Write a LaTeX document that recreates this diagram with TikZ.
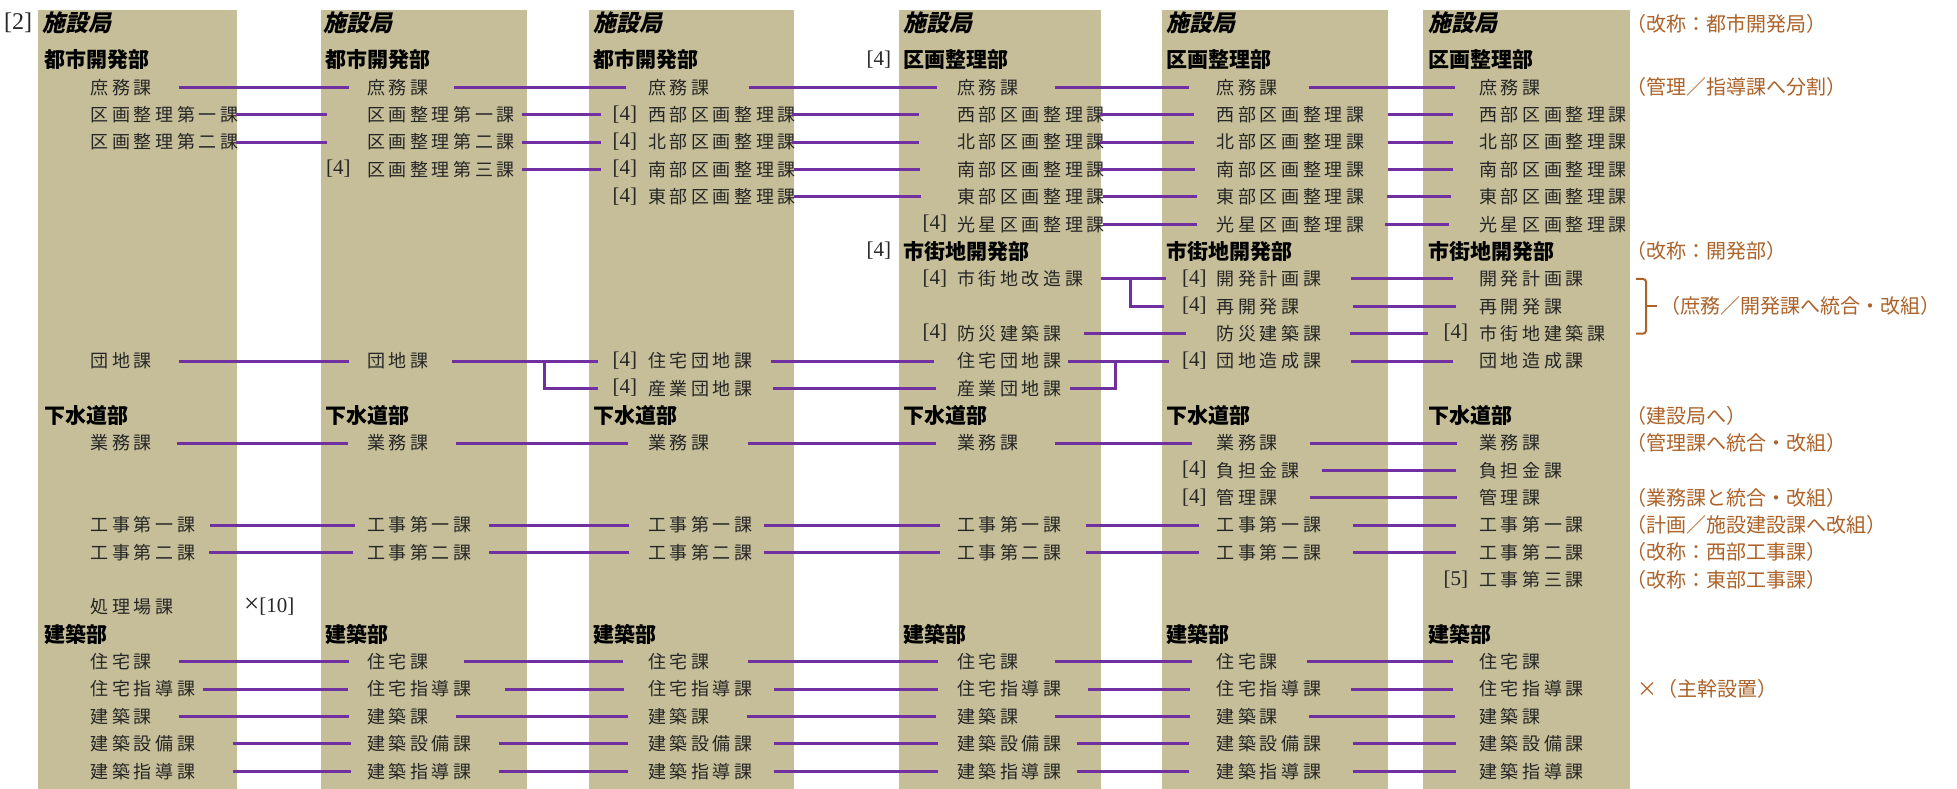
\documentclass[tikz,border=0pt]{standalone}
\usepackage{fontspec}
\setmainfont{Liberation Serif}
\newfontfamily\jp{Noto Sans CJK JP}
\newfontfamily\jpls[LetterSpace=20]{Noto Sans CJK JP}
\newfontfamily\jpsl[FakeSlant=0.22]{Noto Sans CJK JP}
\definecolor{colbg}{RGB}{197,190,152}
\definecolor{lnk}{RGB}{112,48,160}
\definecolor{notec}{RGB}{172,98,40}
\def\XA{90.5}\def\XB{367}\def\XC{648}\def\XD{957}\def\XE{1216.5}\def\XF{1479}
\def\HA{44}\def\HB{325}\def\HC{593}\def\HD{903}\def\HE{1166}\def\HF{1428}
\newcommand\secnode[4]{\node[sec] (#1) at (#2,{ry(#3)}) {#4};}
\newcommand\hdnode[4]{\node[hd] (#1) at (#2,{ry(#3)}) {#4};}
\newcommand\refnode[4]{\node[refn] (#1) at (#2,{ry(#3)}) {#4};}
\newcommand\notenode[4]{\node[note] (#1) at (#2,{ry(#3)}) {#4};}
\newcommand\lnk[4]{\draw[conn] ([xshift=#3pt]#1.east) -- ([xshift=#4pt]#2.west);}
\begin{document}
\begin{tikzpicture}[x=1pt,y=-1pt,
  declare function={ry(\r)=87.5+27.35*(\r-2);},
  ttl/.style={anchor=west,inner sep=0pt,font=\jpsl\bfseries\fontsize{23}{23}\selectfont,text height=19pt,text depth=3pt},
  hd/.style={anchor=west,inner sep=0pt,font=\jp\bfseries\fontsize{21}{21}\selectfont,text height=17.5pt,text depth=2.3pt},
  sec/.style={anchor=west,inner sep=0pt,font=\jpls\fontsize{18}{18}\selectfont,text=black!85,text height=15pt,text depth=1.5pt},
  refn/.style={anchor=west,inner sep=0pt,font=\fontsize{21}{21}\selectfont,text=black!85,text height=14.3pt,text depth=3.8pt},
  note/.style={anchor=west,inner sep=0pt,font=\jp\fontsize{20}{20}\selectfont,text=notec,text height=16.6pt,text depth=2pt},
  conn/.style={draw=lnk,line width=3pt},
  brace/.style={draw=notec,line width=2pt,rounded corners=3pt}]
\useasboundingbox (0,0) rectangle (1957,789);
\fill[white] (0,0) rectangle (1957,789);
% column backgrounds
\fill[colbg] (37.5,10.5) rectangle (237,789);
\fill[colbg] (321,10.5) rectangle (527,789);
\fill[colbg] (589,10.5) rectangle (794,789);
\fill[colbg] (899,10.5) rectangle (1101,789);
\fill[colbg] (1162,10.5) rectangle (1388,789);
\fill[colbg] (1423,10.5) rectangle (1630,789);
% titles
\node[refn,font=\fontsize{24}{24}\selectfont] (ref2) at (4,24) {[2]};
\node[ttl] (c1t) at (42,24) {施設局};
\node[ttl] (c2t) at (323,24) {施設局};
\node[ttl] (c3t) at (593,24) {施設局};
\node[ttl] (c4t) at (903,24) {施設局};
\node[ttl] (c5t) at (1166,24) {施設局};
\node[ttl] (c6t) at (1428,24) {施設局};
% ---------- column 1
\hdnode{c1h1}{\HA}{1}{都市開発部}
\secnode{c1r2}{\XA}{2}{庶務課}
\secnode{c1r3}{\XA}{3}{区画整理第一課}
\secnode{c1r4}{\XA}{4}{区画整理第二課}
\secnode{c1r12}{\XA}{12}{団地課}
\hdnode{c1h14}{\HA}{14}{下水道部}
\secnode{c1r15}{\XA}{15}{業務課}
\secnode{c1r18}{\XA}{18}{工事第一課}
\secnode{c1r19}{\XA}{19}{工事第二課}
\secnode{c1r21}{\XA}{21}{処理場課}
\refnode{x10}{244}{21}{{\fontsize{27}{27}\selectfont ×}[10]}
\hdnode{c1h22}{\HA}{22}{建築部}
\secnode{c1r23}{\XA}{23}{住宅課}
\secnode{c1r24}{\XA}{24}{住宅指導課}
\secnode{c1r25}{\XA}{25}{建築課}
\secnode{c1r26}{\XA}{26}{建築設備課}
\secnode{c1r27}{\XA}{27}{建築指導課}
% ---------- column 2
\hdnode{c2h1}{\HB}{1}{都市開発部}
\secnode{c2r2}{\XB}{2}{庶務課}
\secnode{c2r3}{\XB}{3}{区画整理第一課}
\secnode{c2r4}{\XB}{4}{区画整理第二課}
\refnode{p2r5}{326}{5}{[4]}
\secnode{c2r5}{\XB}{5}{区画整理第三課}
\secnode{c2r12}{\XB}{12}{団地課}
\hdnode{c2h14}{\HB}{14}{下水道部}
\secnode{c2r15}{\XB}{15}{業務課}
\secnode{c2r18}{\XB}{18}{工事第一課}
\secnode{c2r19}{\XB}{19}{工事第二課}
\hdnode{c2h22}{\HB}{22}{建築部}
\secnode{c2r23}{\XB}{23}{住宅課}
\secnode{c2r24}{\XB}{24}{住宅指導課}
\secnode{c2r25}{\XB}{25}{建築課}
\secnode{c2r26}{\XB}{26}{建築設備課}
\secnode{c2r27}{\XB}{27}{建築指導課}
% ---------- column 3
\hdnode{c3h1}{\HC}{1}{都市開発部}
\secnode{c3r2}{\XC}{2}{庶務課}
\refnode{p3r3}{612.5}{3}{[4]}
\secnode{c3r3}{\XC}{3}{西部区画整理課}
\refnode{p3r4}{612.5}{4}{[4]}
\secnode{c3r4}{\XC}{4}{北部区画整理課}
\refnode{p3r5}{612.5}{5}{[4]}
\secnode{c3r5}{\XC}{5}{南部区画整理課}
\refnode{p3r6}{612.5}{6}{[4]}
\secnode{c3r6}{\XC}{6}{東部区画整理課}
\refnode{p3r12}{612.5}{12}{[4]}
\secnode{c3r12}{\XC}{12}{住宅団地課}
\refnode{p3r13}{612.5}{13}{[4]}
\secnode{c3r13}{\XC}{13}{産業団地課}
\hdnode{c3h14}{\HC}{14}{下水道部}
\secnode{c3r15}{\XC}{15}{業務課}
\secnode{c3r18}{\XC}{18}{工事第一課}
\secnode{c3r19}{\XC}{19}{工事第二課}
\hdnode{c3h22}{\HC}{22}{建築部}
\secnode{c3r23}{\XC}{23}{住宅課}
\secnode{c3r24}{\XC}{24}{住宅指導課}
\secnode{c3r25}{\XC}{25}{建築課}
\secnode{c3r26}{\XC}{26}{建築設備課}
\secnode{c3r27}{\XC}{27}{建築指導課}
% ---------- column 4
\refnode{p4h1}{866.5}{1}{[4]}
\hdnode{c4h1}{\HD}{1}{区画整理部}
\secnode{c4r2}{\XD}{2}{庶務課}
\secnode{c4r3}{\XD}{3}{西部区画整理課}
\secnode{c4r4}{\XD}{4}{北部区画整理課}
\secnode{c4r5}{\XD}{5}{南部区画整理課}
\secnode{c4r6}{\XD}{6}{東部区画整理課}
\refnode{p4r7}{922.5}{7}{[4]}
\secnode{c4r7}{\XD}{7}{光星区画整理課}
\refnode{p4h8}{866.5}{8}{[4]}
\hdnode{c4h8}{\HD}{8}{市街地開発部}
\refnode{p4r9}{922.5}{9}{[4]}
\secnode{c4r9}{\XD}{9}{市街地改造課}
\refnode{p4r11}{922.5}{11}{[4]}
\secnode{c4r11}{\XD}{11}{防災建築課}
\secnode{c4r12}{\XD}{12}{住宅団地課}
\secnode{c4r13}{\XD}{13}{産業団地課}
\hdnode{c4h14}{\HD}{14}{下水道部}
\secnode{c4r15}{\XD}{15}{業務課}
\secnode{c4r18}{\XD}{18}{工事第一課}
\secnode{c4r19}{\XD}{19}{工事第二課}
\hdnode{c4h22}{\HD}{22}{建築部}
\secnode{c4r23}{\XD}{23}{住宅課}
\secnode{c4r24}{\XD}{24}{住宅指導課}
\secnode{c4r25}{\XD}{25}{建築課}
\secnode{c4r26}{\XD}{26}{建築設備課}
\secnode{c4r27}{\XD}{27}{建築指導課}
% ---------- column 5
\hdnode{c5h1}{\HE}{1}{区画整理部}
\secnode{c5r2}{\XE}{2}{庶務課}
\secnode{c5r3}{\XE}{3}{西部区画整理課}
\secnode{c5r4}{\XE}{4}{北部区画整理課}
\secnode{c5r5}{\XE}{5}{南部区画整理課}
\secnode{c5r6}{\XE}{6}{東部区画整理課}
\secnode{c5r7}{\XE}{7}{光星区画整理課}
\hdnode{c5h8}{\HE}{8}{市街地開発部}
\refnode{p5r9}{1182}{9}{[4]}
\secnode{c5r9}{\XE}{9}{開発計画課}
\refnode{p5r10}{1182}{10}{[4]}
\secnode{c5r10}{\XE}{10}{再開発課}
\secnode{c5r11}{\XE}{11}{防災建築課}
\refnode{p5r12}{1182}{12}{[4]}
\secnode{c5r12}{\XE}{12}{団地造成課}
\hdnode{c5h14}{\HE}{14}{下水道部}
\secnode{c5r15}{\XE}{15}{業務課}
\refnode{p5r16}{1182}{16}{[4]}
\secnode{c5r16}{\XE}{16}{負担金課}
\refnode{p5r17}{1182}{17}{[4]}
\secnode{c5r17}{\XE}{17}{管理課}
\secnode{c5r18}{\XE}{18}{工事第一課}
\secnode{c5r19}{\XE}{19}{工事第二課}
\hdnode{c5h22}{\HE}{22}{建築部}
\secnode{c5r23}{\XE}{23}{住宅課}
\secnode{c5r24}{\XE}{24}{住宅指導課}
\secnode{c5r25}{\XE}{25}{建築課}
\secnode{c5r26}{\XE}{26}{建築設備課}
\secnode{c5r27}{\XE}{27}{建築指導課}
% ---------- column 6
\hdnode{c6h1}{\HF}{1}{区画整理部}
\secnode{c6r2}{\XF}{2}{庶務課}
\secnode{c6r3}{\XF}{3}{西部区画整理課}
\secnode{c6r4}{\XF}{4}{北部区画整理課}
\secnode{c6r5}{\XF}{5}{南部区画整理課}
\secnode{c6r6}{\XF}{6}{東部区画整理課}
\secnode{c6r7}{\XF}{7}{光星区画整理課}
\hdnode{c6h8}{\HF}{8}{市街地開発部}
\secnode{c6r9}{\XF}{9}{開発計画課}
\secnode{c6r10}{\XF}{10}{再開発課}
\refnode{p6r11}{1443.5}{11}{[4]}
\secnode{c6r11}{\XF}{11}{市街地建築課}
\secnode{c6r12}{\XF}{12}{団地造成課}
\hdnode{c6h14}{\HF}{14}{下水道部}
\secnode{c6r15}{\XF}{15}{業務課}
\secnode{c6r16}{\XF}{16}{負担金課}
\secnode{c6r17}{\XF}{17}{管理課}
\secnode{c6r18}{\XF}{18}{工事第一課}
\secnode{c6r19}{\XF}{19}{工事第二課}
\refnode{p6r20}{1443.5}{20}{[5]}
\secnode{c6r20}{\XF}{20}{工事第三課}
\hdnode{c6h22}{\HF}{22}{建築部}
\secnode{c6r23}{\XF}{23}{住宅課}
\secnode{c6r24}{\XF}{24}{住宅指導課}
\secnode{c6r25}{\XF}{25}{建築課}
\secnode{c6r26}{\XF}{26}{建築設備課}
\secnode{c6r27}{\XF}{27}{建築指導課}
% ---------- notes
\node[note] (n0) at (1626.5,24) {（改称：都市開発局）};
\notenode{n2}{1626.5}{2}{（管理／指導課へ分割）}
\notenode{n8}{1626.5}{8}{（改称：開発部）}
\notenode{n10}{1660}{10}{（庶務／開発課へ統合・改組）}
\notenode{n14}{1626.5}{14}{（建設局へ）}
\notenode{n15}{1626.5}{15}{（管理課へ統合・改組）}
\notenode{n17}{1626.5}{17}{（業務課と統合・改組）}
\notenode{n18}{1626.5}{18}{（計画／施設建設課へ改組）}
\notenode{n19}{1626.5}{19}{（改称：西部工事課）}
\notenode{n20}{1626.5}{20}{（改称：東部工事課）}
\notenode{n24}{1637}{24}{×（主幹設置）}
\draw[brace] (1636,{ry(9)}) -- (1646,{ry(9)}) -- (1646,{ry(11)}) -- (1636,{ry(11)});
\draw[draw=notec,line width=2pt] (1646,{ry(10)}) -- (1657,{ry(10)});
% ---------- connectors
% row 2
\lnk{c1r2}{c2r2}{26.7}{-18}
\lnk{c2r2}{c3r2}{25.2}{-22}
\lnk{c3r2}{c4r2}{39.2}{-20}
\lnk{c4r2}{c5r2}{36.2}{-27.5}
\lnk{c5r2}{c6r2}{30.7}{-24}
% rows 3-7
\lnk{c1r3}{c2r3}{-2.7}{-40}
\lnk{c2r3}{p3r3}{6.8}{-11.5}
\lnk{c3r3}{c4r3}{-4.2}{-38}
\lnk{c4r3}{c5r3}{-5.2}{-22.5}
\lnk{c5r3}{c6r3}{23.3}{-26}
\lnk{c1r4}{c2r4}{-2.7}{-40}
\lnk{c2r4}{p3r4}{6.8}{-11.5}
\lnk{c3r4}{c4r4}{-4.2}{-38}
\lnk{c4r4}{c5r4}{-5.2}{-22.5}
\lnk{c5r4}{c6r4}{23.3}{-26}
\lnk{c2r5}{p3r5}{6.8}{-11.5}
\lnk{c3r5}{c4r5}{-2.2}{-37}
\lnk{c4r5}{c5r5}{-5.2}{-21.5}
\lnk{c5r5}{c6r5}{23.3}{-26}
\lnk{c3r6}{c4r6}{-2.2}{-36}
\lnk{c4r6}{c5r6}{-2.2}{-19.5}
\lnk{c5r6}{c6r6}{22.3}{-28}
\lnk{c4r7}{c5r7}{-2.2}{-19.5}
\lnk{c5r7}{c6r7}{20.3}{-30}
% rows 9-11
\lnk{c4r9}{p5r9}{17.4}{-16}
\coordinate (j9) at ([xshift=47.4pt]c4r9.east);
\draw[conn] (j9) |- ([xshift=-18pt]p5r10.west);
\lnk{c5r9}{c6r9}{29.5}{-26}
\lnk{c5r10}{c6r10}{53.1}{-23}
\lnk{c4r11}{c5r11}{22}{-30.5}
\lnk{c5r11}{p6r11}{28.5}{-15.5}
% rows 12-13
\lnk{c1r12}{c2r12}{26.7}{-18}
\lnk{c2r12}{p3r12}{23.2}{-14.5}
\coordinate (j12) at ([xshift=116.2pt]c2r12.east);
\draw[conn] (j12) |- ([xshift=-14.5pt]p3r13.west);
\lnk{c3r12}{c4r12}{18}{-23}
\lnk{c3r13}{c4r13}{20}{-21}
\lnk{c4r12}{p5r12}{6}{-13}
\coordinate (jm) at ([xshift=54pt]c4r12.east);
\draw[conn] ([xshift=8pt]c4r13.east) -| (jm);
\lnk{c5r12}{c6r12}{29.5}{-26}
% rows 15-19
\lnk{c1r15}{c2r15}{24.7}{-19.5}
\lnk{c2r15}{c3r15}{27.2}{-20.5}
\lnk{c3r15}{c4r15}{38.2}{-21}
\lnk{c4r15}{c5r15}{36.8}{-24.8}
\lnk{c5r15}{c6r15}{31.7}{-22}
\lnk{c5r16}{c6r16}{22.1}{-23}
\lnk{c5r17}{c6r17}{31.7}{-22}
\lnk{c1r18}{c2r18}{15.1}{-12.4}
\lnk{c2r18}{c3r18}{17}{-19}
\lnk{c3r18}{c4r18}{11.5}{-17}
\lnk{c4r18}{c5r18}{24}{-17.5}
\lnk{c5r18}{c6r18}{31.5}{-23}
\lnk{c1r19}{c2r19}{13.5}{-14}
\lnk{c2r19}{c3r19}{17}{-19}
\lnk{c3r19}{c4r19}{11.5}{-17}
\lnk{c4r19}{c5r19}{24}{-17.5}
\lnk{c5r19}{c6r19}{31.5}{-23}
% rows 23-27
\lnk{c1r23}{c2r23}{26.7}{-18}
\lnk{c2r23}{c3r23}{35.2}{-25}
\lnk{c3r23}{c4r23}{38.2}{-19.5}
\lnk{c4r23}{c5r23}{36.8}{-24.8}
\lnk{c5r23}{c6r23}{28.7}{-26}
\lnk{c1r24}{c2r24}{7.5}{-19.5}
\lnk{c2r24}{c3r24}{33}{-24}
\lnk{c3r24}{c4r24}{21.5}{-19.5}
\lnk{c4r24}{c5r24}{25.7}{-26.5}
\lnk{c5r24}{c6r24}{29.5}{-26}
\lnk{c1r25}{c2r25}{26.7}{-18}
\lnk{c2r25}{c3r25}{27.2}{-20.5}
\lnk{c3r25}{c4r25}{37.2}{-21.3}
\lnk{c4r25}{c5r25}{36.2}{-26.5}
\lnk{c5r25}{c6r25}{30.4}{-24}
\lnk{c1r26}{c2r26}{37.9}{-16.3}
\lnk{c2r26}{c3r26}{27}{-20.5}
\lnk{c3r26}{c4r26}{21.5}{-19.5}
\lnk{c4r26}{c5r26}{15}{-27.5}
\lnk{c5r26}{c6r26}{31.5}{-23}
\lnk{c1r27}{c2r27}{37.9}{-16.3}
\lnk{c2r27}{c3r27}{27}{-20.5}
\lnk{c3r27}{c4r27}{21.5}{-19.5}
\lnk{c4r27}{c5r27}{15}{-27.5}
\lnk{c5r27}{c6r27}{31.5}{-23}
\end{tikzpicture}
\end{document}
